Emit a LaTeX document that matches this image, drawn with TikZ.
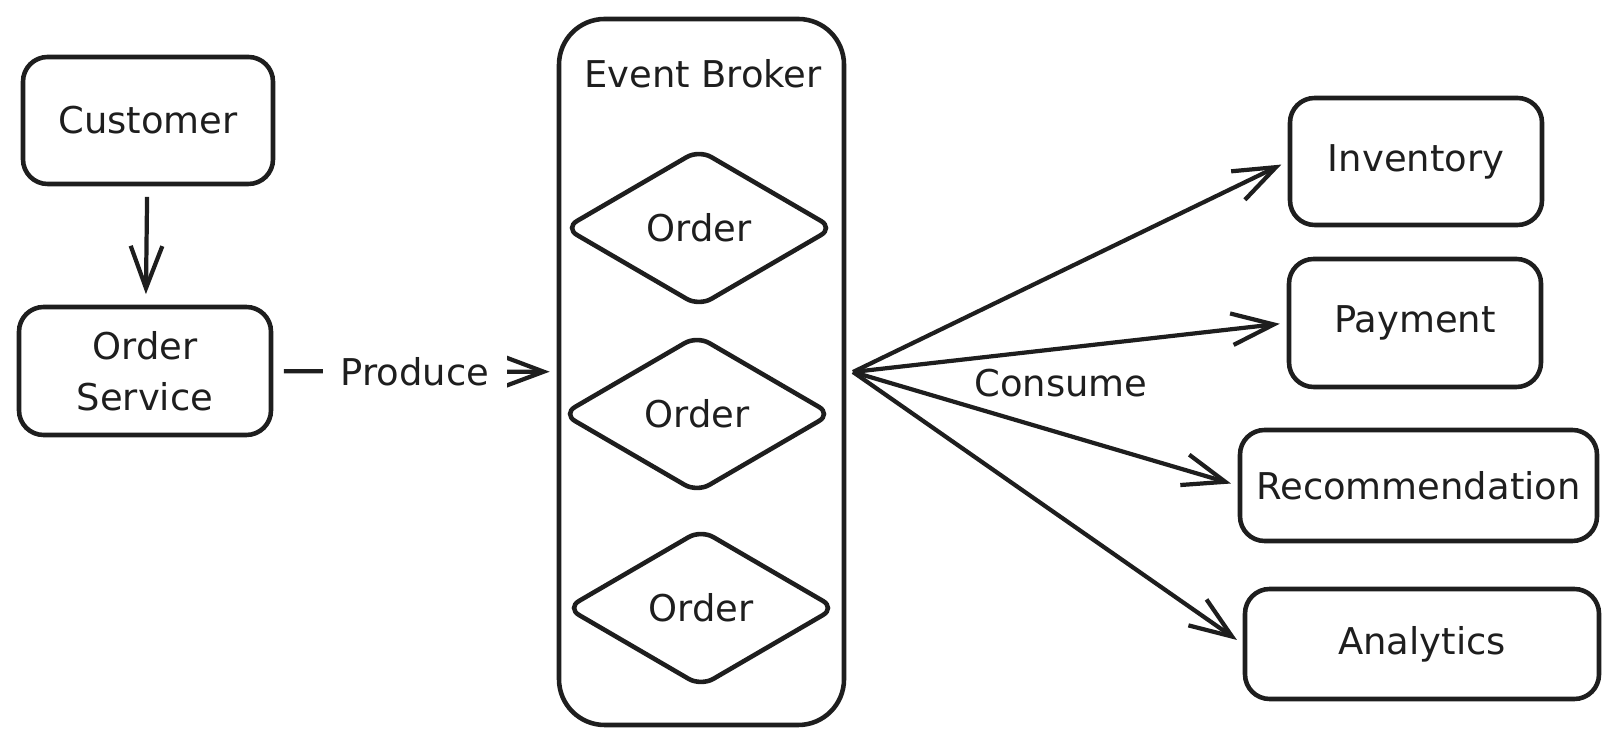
\documentclass[tikz,border=0pt]{standalone}
\usepackage{fontspec}
\setmainfont{DejaVu Sans}
\usepackage{tikz}
\usetikzlibrary{
  arrows.meta,
  positioning,
  shapes.geometric,
}
\definecolor{ink}{HTML}{1E1E1E}

\begin{document}
\begin{tikzpicture}[
    svcbox/.style={rectangle, draw=ink, rounded corners=7pt, line width=1.3pt,
                   inner sep=0pt, text=ink, align=center,
                   font=\fontsize{10.5}{14.5}\selectfont},
    topic/.style={diamond, draw=ink, rounded corners=4pt, line width=1.3pt,
                  minimum width=2.70cm, minimum height=1.58cm, inner sep=0pt,
                  text=ink, font=\fontsize{10.5}{13}\selectfont},
    broker/.style={rectangle, draw=ink, rounded corners=13pt, line width=1.3pt,
                   minimum width=2.85cm, minimum height=7.06cm},
    lbl/.style={text=ink, font=\fontsize{10.5}{13}\selectfont},
    ->, >={Straight Barb[length=12pt, width=9pt]}, line width=1.2pt, draw=ink,
  ]
  \useasboundingbox (0,0) rectangle (16.2,-7.46);

  % producer side
  \node[svcbox, minimum width=2.50cm, minimum height=1.27cm] (customer) at (1.48,-1.205) {Customer};
  \node[svcbox, minimum width=2.52cm, minimum height=1.28cm] (ordersvc) at (1.45,-3.71) {Order\\Service};

  % broker with its topics
  \node[broker] (broker) at (7.015,-3.72) {};
  \node[lbl] (brokertitle) at (7.03,-0.74) {Event Broker};
  \node[topic] (order1) at (6.99,-2.28) {Order};
  \node[topic] (order2) at (6.97,-4.14) {Order};
  \node[topic] (order3) at (7.01,-6.08) {Order};

  % consumers
  \node[svcbox, minimum width=2.52cm, minimum height=1.27cm] (inventory) at (14.16,-1.615) {Inventory};
  \node[svcbox, minimum width=2.52cm, minimum height=1.28cm] (payment) at (14.15,-3.23) {Payment};
  \node[svcbox, minimum width=3.57cm, minimum height=1.11cm] (recommend) at (14.185,-4.855) {Recommendation};
  \node[svcbox, minimum width=3.54cm, minimum height=1.10cm] (analytics) at (14.22,-6.44) {Analytics};

  \coordinate (hub) at (8.53,-3.72);
  \node[lbl] (consume) at (10.61,-3.83) {Consume};

  \draw[shorten <=3pt, shorten >=3pt] (customer) -- (ordersvc);
  \draw[shorten <=3pt, shorten >=2pt] (ordersvc) -- node[lbl, fill=white, inner sep=5pt] (produce) {Produce} (broker);

  \draw[shorten >=2pt] (hub) -- (inventory.west);
  \draw[shorten >=2pt] (hub) -- (payment.west);
  \draw[shorten >=2pt] (hub) -- (recommend.west);
  \draw[shorten >=2pt] (hub) -- (analytics.west);
\end{tikzpicture}
\end{document}
